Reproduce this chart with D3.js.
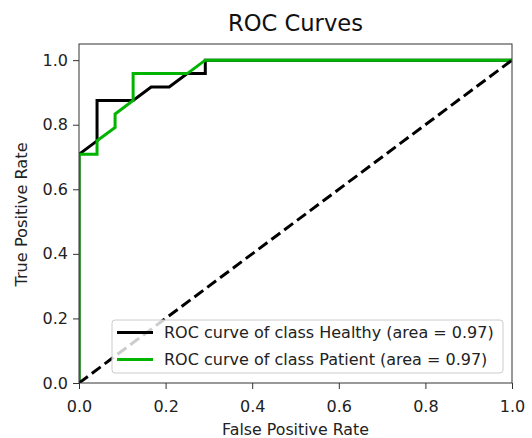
<!DOCTYPE html>
<html>
<head>
<meta charset="utf-8">
<script src="https://cdn.jsdelivr.net/npm/d3@7"></script>
<style>
  html, body { margin: 0; padding: 0; background: #fff; }
  svg { display: block; font-family: "DejaVu Sans", sans-serif; }
</style>
</head>
<body>
<svg id="chart" width="532" height="438"></svg>
<script>
// ROC points per class (false positive rate, true positive rate)
const healthyFpr = [0, 0, 1/24, 1/24, 3/24, 4/24, 5/24, 6/24, 7/24, 7/24, 1];
const healthyTpr = [0, 17/24, 18/24, 21/24, 21/24, 22/24, 22/24, 23/24, 23/24, 1, 1];
const patientFpr = [0, 0, 1/24, 1/24, 2/24, 2/24, 3/24, 3/24, 6/24, 7/24, 1];
const patientTpr = [0, 17/24, 17/24, 18/24, 19/24, 20/24, 21/24, 23/24, 23/24, 1, 1];
const classNames = ["Healthy", "Patient"];
const classAuc = [0.97, 0.97];
const classColors = ["#000000", "#00b400"];
const xTicks = [0, 0.2, 0.4, 0.6, 0.8, 1.0];
const yTicks = [0, 0.2, 0.4, 0.6, 0.8, 1.0];

const svg = d3.select("#chart");
const m = { left: 79, right: 20, top: 44, bottom: 55 };
const W = 532, H = 438;
const x = d3.scaleLinear().domain([0, 1]).range([m.left, W - m.right]);
const y = d3.scaleLinear().domain([0, 1.05]).range([H - m.bottom, m.top]);

svg.append("defs").append("clipPath").attr("id", "plotClip")
  .append("rect")
  .attr("x", x(0)).attr("y", y(1.05))
  .attr("width", x(1) - x(0)).attr("height", y(0) - y(1.05));

const plot = svg.append("g").attr("clip-path", "url(#plotClip)");

const series = [
  { name: classNames[0], fpr: healthyFpr, tpr: healthyTpr, auc: classAuc[0], color: classColors[0] },
  { name: classNames[1], fpr: patientFpr, tpr: patientTpr, auc: classAuc[1], color: classColors[1] }
];

const line = d3.line().x(d => x(d[0])).y(d => y(d[1]));

series.forEach(s => {
  plot.append("path")
    .datum(s.fpr.map((f, i) => [f, s.tpr[i]]))
    .attr("d", line)
    .attr("fill", "none")
    .attr("stroke", s.color)
    .attr("stroke-width", 3)
    .attr("stroke-linejoin", "miter");
});

// chance diagonal
plot.append("path")
  .datum([[0, 0], [1, 1]])
  .attr("d", line)
  .attr("fill", "none")
  .attr("stroke", "#000")
  .attr("stroke-width", 3)
  .attr("stroke-dasharray", "11,5");

// axes
const fmt = d3.format(".1f");
const xAxis = svg.append("g")
  .attr("transform", `translate(0,${y(0)})`)
  .call(d3.axisBottom(x).tickValues(xTicks).tickFormat(fmt).tickSize(6).tickPadding(11.5));
const yAxis = svg.append("g")
  .attr("transform", `translate(${x(0)},0)`)
  .call(d3.axisLeft(y).tickValues(yTicks).tickFormat(fmt).tickSize(6).tickPadding(5));
[xAxis, yAxis].forEach(a => {
  a.select(".domain").remove();
  a.selectAll("line").attr("stroke", "#333").attr("stroke-width", 1);
  a.selectAll("text").attr("font-size", 16).attr("fill", "#222")
    .attr("font-family", "DejaVu Sans, sans-serif");
});
xAxis.selectAll("text").attr("dy", "0.71em").attr("y", 17.5);

svg.append("rect")
  .attr("x", x(0)).attr("y", y(1.05))
  .attr("width", x(1) - x(0)).attr("height", y(0) - y(1.05))
  .attr("fill", "none").attr("stroke", "#333").attr("stroke-width", 1);

// titles
svg.append("text")
  .attr("x", (x(0) + x(1)) / 2).attr("y", 31)
  .attr("text-anchor", "middle").attr("font-size", 22.6).attr("fill", "#111")
  .text("ROC Curves");
svg.append("text")
  .attr("x", (x(0) + x(1)) / 2).attr("y", 435)
  .attr("text-anchor", "middle").attr("font-size", 15.8).attr("fill", "#222")
  .text("False Positive Rate");
svg.append("text")
  .attr("transform", "translate(27,214.5) rotate(-90)")
  .attr("text-anchor", "middle").attr("font-size", 16.2).attr("fill", "#222")
  .text("True Positive Rate");

// legend
const lg = svg.append("g");
lg.append("rect")
  .attr("x", 112).attr("y", 320).attr("width", 391).attr("height", 53)
  .attr("rx", 3).attr("fill", "#fff").attr("fill-opacity", 0.8)
  .attr("stroke", "#ccc").attr("stroke-width", 1);
series.forEach((s, i) => {
  const cy = 332.5 + i * 27;
  lg.append("line")
    .attr("x1", 117).attr("x2", 153).attr("y1", cy).attr("y2", cy)
    .attr("stroke", s.color).attr("stroke-width", 3);
  lg.append("text")
    .attr("x", 164).attr("y", cy).attr("dy", "0.36em")
    .attr("font-size", 16).attr("fill", "#222")
    .text(`ROC curve of class ${s.name} (area = ${s.auc.toFixed(2)})`);
});
</script>
</body>
</html>
